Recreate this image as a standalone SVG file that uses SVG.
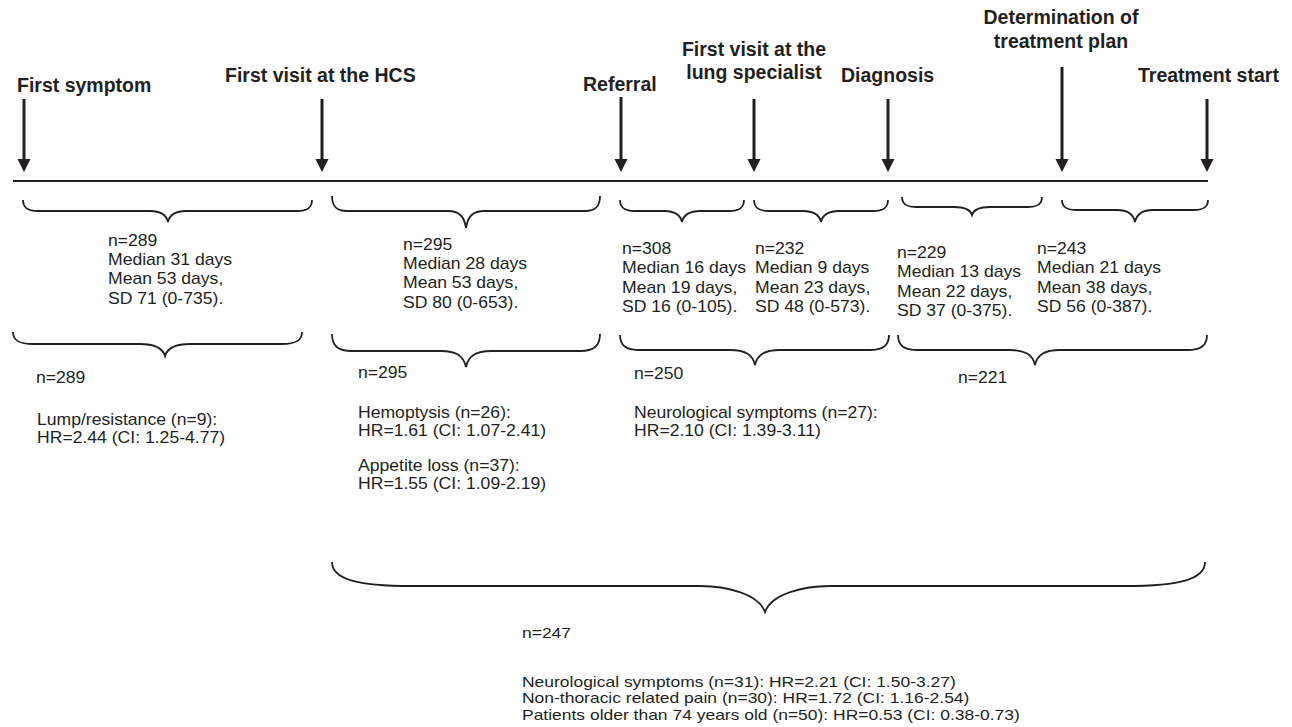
<svg xmlns="http://www.w3.org/2000/svg" width="1292" height="727" viewBox="0 0 1292 727">
<style>
.lbl{font-family:"Liberation Sans",Arial,sans-serif;font-weight:bold;font-size:19.5px;fill:#231f20}
.t{font-family:"Liberation Sans",Arial,sans-serif;font-size:16px;fill:#231f20}
.s{font-family:"Liberation Sans",Arial,sans-serif;font-size:15.2px;fill:#231f20}
.br{fill:none;stroke:#231f20;stroke-width:1.8}
.sh{stroke:#231f20;stroke-width:3}
.ah{fill:#231f20}
.tl{stroke:#231f20;stroke-width:2}
</style>
<rect width="1292" height="727" fill="#fff"/>
<g id="connectors">
<line class="tl" x1="13" y1="181" x2="1208" y2="181"/>
<line class="sh" x1="24" y1="99" x2="24" y2="161"/><polygon class="ah" points="17.5,159 30.5,159 24,172"/>
<line class="sh" x1="322" y1="99" x2="322" y2="161"/><polygon class="ah" points="315.5,159 328.5,159 322,172"/>
<line class="sh" x1="621" y1="97" x2="621" y2="161"/><polygon class="ah" points="614.5,159 627.5,159 621,172"/>
<line class="sh" x1="754" y1="99" x2="754" y2="161"/><polygon class="ah" points="747.5,159 760.5,159 754,172"/>
<line class="sh" x1="888" y1="99" x2="888" y2="161"/><polygon class="ah" points="881.5,159 894.5,159 888,172"/>
<line class="sh" x1="1062" y1="67" x2="1062" y2="161"/><polygon class="ah" points="1055.5,159 1068.5,159 1062,172"/>
<line class="sh" x1="1207" y1="99" x2="1207" y2="161"/><polygon class="ah" points="1200.5,159 1213.5,159 1207,172"/>
<path class="br" d="M23,200 C23,207.7 27.5,211 38,211 L150,211 C160.8,211 166.2,214.3 168,222 C169.8,214.3 175.2,211 186,211 L297,211 C307.5,211 312,207.7 312,200"/>
<path class="br" d="M332,196 C332,206.5 336.5,211 347,211 L448,211 C458.8,211 464.2,216 466,228 C467.8,216 473.2,211 484,211 L585,211 C595.5,211 600,206.5 600,196"/>
<path class="br" d="M620,200 C620,207.7 624.5,211 635,211 L664,211 C674.8,211 680.2,214.3 682,222 C683.8,214.3 689.2,211 700,211 L729,211 C739.5,211 744,207.7 744,200"/>
<path class="br" d="M754,200 C754,207.7 758.5,211 769,211 L803,211 C813.8,211 819.2,214.3 821,222 C822.8,214.3 828.2,211 839,211 L873,211 C883.5,211 888,207.7 888,200"/>
<path class="br" d="M902,197 C902,204 906.5,207 917,207 L954,207 C964.8,207 970.2,209.4 972,215 C973.8,209.4 979.2,207 990,207 L1027,207 C1037.5,207 1042,204 1042,197"/>
<path class="br" d="M1062,200 C1062,207 1066.5,210 1077,210 L1117,210 C1127.8,210 1133.2,213.6 1135,222 C1136.8,213.6 1142.2,210 1153,210 L1193,210 C1203.5,210 1208,207 1208,200"/>
<path class="br" d="M13,332 C13,340.4 19,344 33,344 L140,344 C155,344 162.5,347.6 165,356 C167.5,347.6 175,344 190,344 L282,344 C296,344 302,340.4 302,332"/>
<path class="br" d="M332,334 C332,345.9 338,351 352,351 L441,351 C456,351 463.5,355.8 466,367 C468.5,355.8 476,351 491,351 L580,351 C594,351 600,345.9 600,334"/>
<path class="br" d="M620,335 C620,345.5 626,350 640,350 L730,350 C745,350 752.5,354.5 755,365 C757.5,354.5 765,350 780,350 L869,350 C883,350 889,345.5 889,335"/>
<path class="br" d="M898,335 C898,345.5 904,350 918,350 L1010,350 C1025,350 1032.5,354.5 1035,365 C1037.5,354.5 1045,350 1060,350 L1187,350 C1201,350 1207,345.5 1207,335"/>
<path class="br" d="M332,562 C332,578.8 356,586 412,586 L700,586 C726,586 758.5,593.8 765,612 C771.5,593.8 804,586 830,586 L1125,586 C1181,586 1205,578.8 1205,562"/>
</g>
<g id="labels">
<text class="lbl" x="17" y="92">First symptom</text>
<text class="lbl" x="225" y="82">First visit at the HCS</text>
<text class="lbl" x="583" y="91">Referral</text>
<text class="lbl" x="754" y="56" text-anchor="middle">First visit at the</text>
<text class="lbl" x="754" y="79" text-anchor="middle">lung specialist</text>
<text class="lbl" x="841" y="82">Diagnosis</text>
<text class="lbl" x="1061" y="24" text-anchor="middle">Determination of</text>
<text class="lbl" x="1061" y="48" text-anchor="middle">treatment plan</text>
<text class="lbl" x="1138" y="82">Treatment start</text>
</g>
<g id="intervals">
<text class="t" transform="translate(108,245.5) scale(1.1,1)"><tspan x="0" y="0">n=289</tspan><tspan x="0" y="19.5">Median 31 days</tspan><tspan x="0" y="39">Mean 53 days,</tspan><tspan x="0" y="58.5">SD 71 (0-735).</tspan></text>
<text class="t" transform="translate(403,249.5) scale(1.1,1)"><tspan x="0" y="0">n=295</tspan><tspan x="0" y="19.5">Median 28 days</tspan><tspan x="0" y="39">Mean 53 days,</tspan><tspan x="0" y="58.5">SD 80 (0-653).</tspan></text>
<text class="t" transform="translate(622,254) scale(1.1,1)"><tspan x="0" y="0">n=308</tspan><tspan x="0" y="19.5">Median 16 days</tspan><tspan x="0" y="39">Mean 19 days,</tspan><tspan x="0" y="58.5">SD 16 (0-105).</tspan></text>
<text class="t" transform="translate(755,254) scale(1.1,1)"><tspan x="0" y="0">n=232</tspan><tspan x="0" y="19.5">Median 9 days</tspan><tspan x="0" y="39">Mean 23 days,</tspan><tspan x="0" y="58.5">SD 48 (0-573).</tspan></text>
<text class="t" transform="translate(897,258) scale(1.1,1)"><tspan x="0" y="0">n=229</tspan><tspan x="0" y="19.5">Median 13 days</tspan><tspan x="0" y="39">Mean 22 days,</tspan><tspan x="0" y="58.5">SD 37 (0-375).</tspan></text>
<text class="t" transform="translate(1037,254) scale(1.1,1)"><tspan x="0" y="0">n=243</tspan><tspan x="0" y="19.5">Median 21 days</tspan><tspan x="0" y="39">Mean 38 days,</tspan><tspan x="0" y="58.5">SD 56 (0-387).</tspan></text>
</g>
<g id="predictors">
<text class="t" transform="translate(36,383) scale(1.1,1)">n=289</text>
<text class="t" transform="translate(37,425) scale(1.1,1)"><tspan x="0" y="0">Lump/resistance (n=9):</tspan><tspan x="0" y="18">HR=2.44 (CI: 1.25-4.77)</tspan></text>
<text class="t" transform="translate(358,378) scale(1.1,1)">n=295</text>
<text class="t" transform="translate(358,418) scale(1.1,1)"><tspan x="0" y="0">Hemoptysis (n=26):</tspan><tspan x="0" y="18">HR=1.61 (CI: 1.07-2.41)</tspan><tspan x="0" y="53.5">Appetite loss (n=37):</tspan><tspan x="0" y="71.5">HR=1.55 (CI: 1.09-2.19)</tspan></text>
<text class="t" transform="translate(634,379) scale(1.1,1)">n=250</text>
<text class="t" transform="translate(634,418) scale(1.1,1)"><tspan x="0" y="0">Neurological symptoms (n=27):</tspan><tspan x="0" y="18.5">HR=2.10 (CI: 1.39-3.11)</tspan></text>
<text class="t" transform="translate(958,383) scale(1.1,1)">n=221</text>
</g>
<g id="overall">
<text class="s" transform="translate(522,638) scale(1.15,1)">n=247</text>
<text class="s" transform="translate(522,687) scale(1.15,1)"><tspan x="0" y="0">Neurological symptoms (n=31): HR=2.21 (CI: 1.50-3.27)</tspan><tspan x="0" y="16.5">Non-thoracic related pain (n=30): HR=1.72 (CI: 1.16-2.54)</tspan><tspan x="0" y="33">Patients older than 74 years old (n=50): HR=0.53 (CI: 0.38-0.73)</tspan></text>
</g>
</svg>
